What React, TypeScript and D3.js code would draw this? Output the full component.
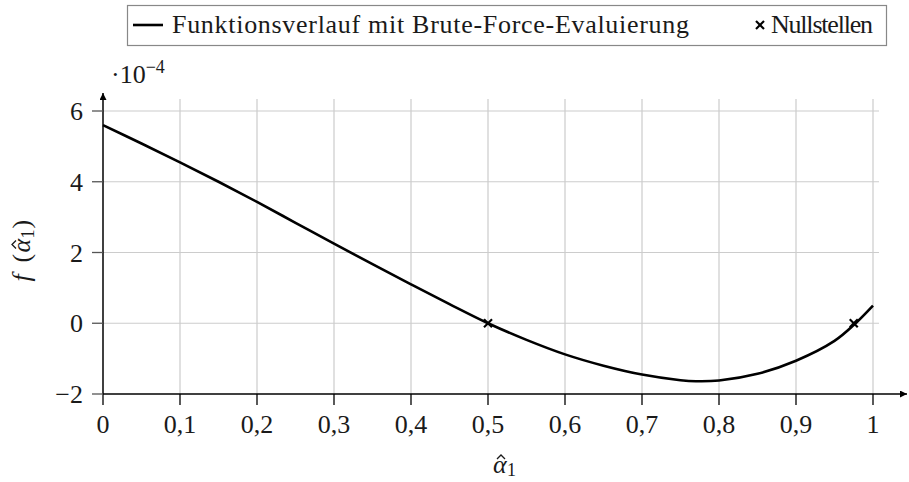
import React from "react";
import * as d3 from "d3";

const xs = [0, 0.05, 0.1, 0.15, 0.2, 0.25, 0.3, 0.35, 0.4, 0.45, 0.5, 0.55, 0.6, 0.65, 0.7, 0.75, 0.77, 0.8, 0.85, 0.9, 0.95, 0.975, 1.0];
const ys = [5.6, 5.08, 4.55, 4.0, 3.43, 2.84, 2.25, 1.67, 1.1, 0.54, 0, -0.47, -0.88, -1.2, -1.45, -1.61, -1.64, -1.62, -1.43, -1.06, -0.5, -0.05, 0.5];
const roots = [0.5, 0.975];
const xTicks = [0, 0.1, 0.2, 0.3, 0.4, 0.5, 0.6, 0.7, 0.8, 0.9, 1];
const yTicks = [-2, 0, 2, 4, 6];
const legendLine = "Funktionsverlauf mit Brute-Force-Evaluierung";
const legendMarker = "Nullstellen";

const W = 909, H = 482;
const tickFont = "'Liberation Serif',serif";
const legFont = "'Liberation Serif',serif";
const ink = "#1a1a1a";

export default function App() {
  const x = d3.scaleLinear().domain([0, 1]).range([103, 873]);
  const y = d3.scaleLinear().domain([-2, 6]).range([394, 111]);
  const line = d3.line<number>().x((_, i) => x(xs[i])).y((d) => y(d)).curve(d3.curveCatmullRom.alpha(0.5));
  const gridTop = 93, gridRight = 887;
  const cy = y(2);
  const hat = (cx: number, by: number) => `M${cx - 4},${by - 14} L${cx},${by - 18} L${cx + 4},${by - 14}`;
  return (
    <svg width={W} height={H} style={{ position: "absolute", left: 0, top: 0, background: "#fff" }}>
      <defs>
        <marker id="arr" viewBox="0 0 10 10" refX="10" refY="5" markerWidth="7" markerHeight="7" orient="auto" markerUnits="userSpaceOnUse">
          <path d="M0,0 L10,5 L0,10 Z" fill="#000" />
        </marker>
      </defs>
      {xTicks.filter((t) => t !== 0).map((t) => (
        <line key={"gx" + t} x1={x(t)} x2={x(t)} y1={y(-2)} y2={gridTop + 6} stroke="#cccccc" strokeWidth={1.2} />
      ))}
      {yTicks.filter((t) => t !== -2).map((t) => (
        <line key={"gy" + t} x1={x(0)} x2={gridRight - 8} y1={y(t)} y2={y(t)} stroke="#cccccc" strokeWidth={1.2} />
      ))}
      <line x1={x(0)} x2={gridRight + 20} y1={y(-2)} y2={y(-2)} stroke="#000" strokeWidth={1.5} markerEnd="url(#arr)" />
      <line x1={x(0)} x2={x(0)} y1={y(-2)} y2={gridTop} stroke="#000" strokeWidth={1.5} markerEnd="url(#arr)" />
      {xTicks.map((t) => (
        <g key={"xt" + t}>
          <line x1={x(t)} x2={x(t)} y1={y(-2)} y2={y(-2) + 11} stroke="#000" strokeWidth={1.3} />
          <text x={x(t)} y={y(-2) + 39} textAnchor="middle" fontFamily={tickFont} fontSize={26} fill={ink}>
            {String(t).replace(".", ",")}
          </text>
        </g>
      ))}
      {yTicks.map((t) => (
        <g key={"yt" + t}>
          <line x1={x(0) - 11} x2={x(0)} y1={y(t)} y2={y(t)} stroke="#555" strokeWidth={1.3} />
          <text x={x(0) - 20} y={y(t) + 9} textAnchor="end" fontFamily={tickFont} fontSize={26} fill={ink}>
            {t < 0 ? "\u2212" + Math.abs(t) : String(t)}
          </text>
        </g>
      ))}
      <text x={111} y={83} fontFamily={tickFont} fontSize={26} fill={ink}>
        ·10<tspan dy={-10} fontSize={18}>−4</tspan>
      </text>
      <path d={line(ys) || ""} fill="none" stroke="#000" strokeWidth={2.6} />
      {roots.map((r) => (
        <g key={"r" + r} stroke="#000" strokeWidth={2.2}>
          <line x1={x(r) - 4} x2={x(r) + 4} y1={y(0) - 4} y2={y(0) + 4} />
          <line x1={x(r) - 4} x2={x(r) + 4} y1={y(0) + 4} y2={y(0) - 4} />
        </g>
      ))}
      {/* x label */}
      <g fontFamily={tickFont} fill={ink}>
        <text x={493} y={473} fontSize={26} fontStyle="italic">α</text>
        <text x={507} y={476} fontSize={18}>1</text>
      </g>
      <path d={hat(501, 473)} fill="none" stroke={ink} strokeWidth={1.3} />
      {/* y label */}
      <g transform={`translate(30,${cy}) rotate(-90)`} fontFamily={tickFont} fill={ink}>
        <text x={-29} y={0} fontSize={26} fontStyle="italic">f</text>
        <text x={-10} y={0} fontSize={26}>(</text>
        <text x={0} y={0} fontSize={26} fontStyle="italic">α</text>
        <path d={hat(8, 0)} fill="none" stroke={ink} strokeWidth={1.3} />
        <text x={14} y={4} fontSize={18}>1</text>
        <text x={24} y={0} fontSize={26}>)</text>
      </g>
      {/* legend */}
      <rect x={127.5} y={5.5} width={759} height={40} fill="#fff" stroke="#888" strokeWidth={1.2} />
      <line x1={133} x2={163} y1={25} y2={25} stroke="#000" strokeWidth={2.6} />
      <text x={172} y={33} fontFamily={legFont} fontSize={26} fill={ink} textLength={517} lengthAdjust="spacing">{legendLine}</text>
      <g stroke="#000" strokeWidth={2.2}>
        <line x1={756} x2={764} y1={21} y2={29} />
        <line x1={756} x2={764} y1={29} y2={21} />
      </g>
      <text x={771} y={33} fontFamily={legFont} fontSize={26} fill={ink} textLength={102} lengthAdjust="spacing">{legendMarker}</text>
    </svg>
  );
}
